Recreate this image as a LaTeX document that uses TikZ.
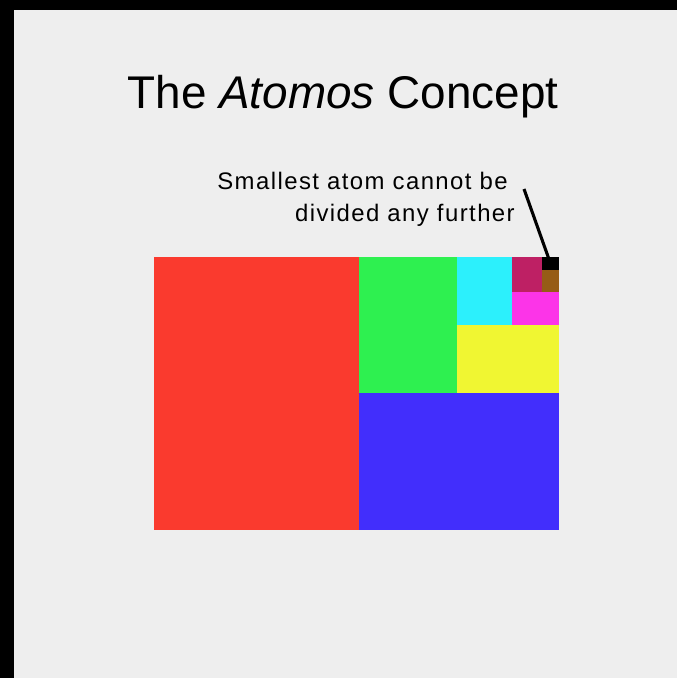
\documentclass[tikz,border=0pt]{standalone}
\usepackage{fontspec}
\setmainfont{Liberation Sans}
\newfontfamily\notefont[LetterSpace=6]{Liberation Sans}
\usetikzlibrary{positioning, calc}
\definecolor{paper}{RGB}{238,238,238}
\definecolor{atomRed}{RGB}{250,58,46}
\definecolor{atomGreen}{RGB}{46,240,80}
\definecolor{atomCyan}{RGB}{44,240,252}
\definecolor{atomYellow}{RGB}{240,246,50}
\definecolor{atomBlue}{RGB}{66,46,252}
\definecolor{atomCrimson}{RGB}{190,32,100}
\definecolor{atomMagenta}{RGB}{252,52,232}
\definecolor{atomBrown}{RGB}{150,92,22}

\begin{document}
\begin{tikzpicture}[
        x=0.025cm, y=-0.025cm,
        block/.style={rectangle, draw=none, inner sep=0pt, outer sep=0pt},
        title/.style={font=\fontsize{32.6}{38}\selectfont, anchor=base},
        note/.style={font=\notefont\fontsize{17}{20}\selectfont, anchor=base east, inner sep=0pt},
        pointer/.style={-, line width=2.2pt, black},
    ]
    % ===== Canvas with black edges =====
    \useasboundingbox (0,0) rectangle (677,678);
    \fill[paper] (0,0) rectangle (677,678);
    \fill[black] (0,0) rectangle (677,10);
    \fill[black] (0,0) rectangle (14,678);

    % ===== Title =====
    \node[title] (T) at (343,108) {The \textit{Atomos} Concept};

    % ===== Divided rectangle =====
    \node[block, fill=atomRed,     minimum width=51.25mm, minimum height=68.25mm] (red)     at (256.5,393.5) {};
    \node[block, fill=atomGreen,   minimum width=24.5mm,  minimum height=34mm]    (green)   at (408,325)     {};
    \node[block, fill=atomBlue,    minimum width=50mm,    minimum height=34.25mm] (blue)    at (459,461.5)   {};
    \node[block, fill=atomCyan,    minimum width=13.75mm, minimum height=17mm]    (cyan)    at (484.5,291)   {};
    \node[block, fill=atomYellow,  minimum width=25.5mm,  minimum height=17mm]    (yellow)  at (508,359)     {};
    \node[block, fill=atomCrimson, minimum width=7.5mm,   minimum height=8.75mm]  (crimson) at (527,274.5)   {};
    \node[block, fill=atomMagenta, minimum width=11.75mm, minimum height=8.25mm]  (magenta) at (535.5,308.5) {};
    \node[block, fill=atomBrown,   minimum width=4.25mm,  minimum height=5.5mm]   (brown)   at (550.5,281)   {};
    \node[block, fill=black,       minimum width=4.25mm,  minimum height=3.25mm]  (atom)    at (550.5,263.5) {};

    % ===== Annotation =====
    \node[note] (N1) at (508,189) {Smallest atom cannot be};
    \node[note] (N2) at (515,221) {divided any further};
    \coordinate (tip) at (524,189);
    \draw[pointer] (tip) -- (atom.center);
\end{tikzpicture}
\end{document}
